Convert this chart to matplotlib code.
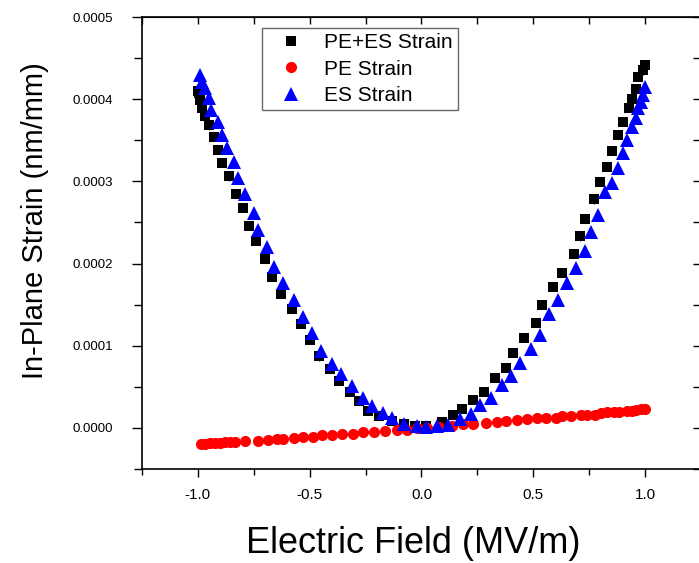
import matplotlib
matplotlib.use("Agg")
import matplotlib.pyplot as plt
from matplotlib.ticker import MultipleLocator, FormatStrFormatter

plt.rcParams['font.family'] = ['Liberation Sans', 'DejaVu Sans']

# PE+ES Strain (black squares), field in MV/m, strain in units of 1e-4 nm/mm
field_black = [-1.00, -0.995, -0.99, -0.98, -0.97, -0.95, -0.93, -0.91, -0.89, -0.86,
               -0.83, -0.80, -0.77, -0.74, -0.70, -0.67, -0.63, -0.58, -0.54, -0.50,
               -0.46, -0.41, -0.37, -0.32, -0.28, -0.24, -0.19, -0.13, -0.08, -0.03,
               0.02, 0.09, 0.14, 0.18, 0.23, 0.28, 0.33, 0.38, 0.41, 0.46,
               0.51, 0.54, 0.59, 0.63, 0.68, 0.71, 0.73, 0.77, 0.80, 0.83,
               0.85, 0.88, 0.90, 0.93, 0.94, 0.96, 0.97, 0.99, 1.00]
strain_black = [4.10, 4.07, 3.99, 3.89, 3.80, 3.68, 3.54, 3.38, 3.22, 3.06,
                2.85, 2.68, 2.46, 2.27, 2.06, 1.84, 1.63, 1.45, 1.26, 1.07,
                0.87, 0.72, 0.57, 0.44, 0.33, 0.21, 0.15, 0.09, 0.05, 0.02,
                0.02, 0.07, 0.16, 0.23, 0.34, 0.44, 0.61, 0.73, 0.91, 1.09,
                1.28, 1.50, 1.71, 1.89, 2.12, 2.33, 2.54, 2.78, 2.99, 3.18,
                3.37, 3.57, 3.72, 3.89, 4.00, 4.12, 4.27, 4.35, 4.41]

# PE Strain (red circles)
field_red = [-0.985, -0.967, -0.945, -0.923, -0.90, -0.878, -0.856, -0.833, -0.79, -0.73,
             -0.686, -0.646, -0.62, -0.57, -0.53, -0.485, -0.445, -0.40, -0.356, -0.307,
             -0.262, -0.213, -0.164, -0.11, -0.066, -0.02, 0.024, 0.08, 0.135, 0.184,
             0.23, 0.287, 0.336, 0.376, 0.425, 0.47, 0.515, 0.555, 0.60, 0.63,
             0.67, 0.715, 0.742, 0.774, 0.805, 0.83, 0.863, 0.885, 0.917, 0.94,
             0.96, 0.983, 1.00]
strain_red = [-0.195, -0.195, -0.183, -0.183, -0.18, -0.17, -0.17, -0.17, -0.16, -0.155,
              -0.146, -0.134, -0.13, -0.12, -0.11, -0.105, -0.085, -0.085, -0.08, -0.073,
              -0.049, -0.045, -0.037, -0.024, -0.03, 0.0, 0.0, 0.012, 0.024, 0.049,
              0.049, 0.061, 0.073, 0.085, 0.098, 0.11, 0.12, 0.12, 0.125, 0.146,
              0.146, 0.159, 0.159, 0.16, 0.18, 0.195, 0.195, 0.195, 0.20, 0.207,
              0.22, 0.23, 0.23]

# ES Strain (blue triangles)
field_blue = [-0.99, -0.98, -0.97, -0.95, -0.94, -0.91, -0.89, -0.87, -0.84, -0.82,
              -0.79, -0.75, -0.73, -0.69, -0.66, -0.62, -0.57, -0.53, -0.49, -0.45,
              -0.40, -0.36, -0.31, -0.26, -0.22, -0.17, -0.13, -0.08, -0.02, 0.02,
              0.07, 0.12, 0.17, 0.22, 0.26, 0.31, 0.36, 0.40, 0.44, 0.49,
              0.53, 0.57, 0.61, 0.65, 0.69, 0.73, 0.76, 0.79, 0.82, 0.85,
              0.88, 0.90, 0.92, 0.94, 0.96, 0.97, 0.98, 0.99, 1.00]
strain_blue = [4.29, 4.21, 4.13, 4.01, 3.87, 3.72, 3.56, 3.40, 3.23, 3.04,
               2.85, 2.61, 2.41, 2.20, 1.96, 1.76, 1.56, 1.35, 1.16, 0.94,
               0.78, 0.65, 0.51, 0.37, 0.27, 0.18, 0.12, 0.05, 0.02, 0.01,
               0.02, 0.04, 0.11, 0.17, 0.28, 0.37, 0.52, 0.63, 0.79, 0.96,
               1.13, 1.38, 1.56, 1.76, 1.95, 2.15, 2.38, 2.59, 2.87, 2.98,
               3.16, 3.35, 3.50, 3.66, 3.77, 3.89, 3.96, 4.05, 4.15]

err_strain = 0.05  # error bar half-height, in units of 1e-4 nm/mm

series_labels = ['PE+ES Strain', 'PE Strain', 'ES Strain']

scale = 1e-4
yb = [v * scale for v in strain_black]
yr = [v * scale for v in strain_red]
yu = [v * scale for v in strain_blue]
e = err_strain * scale

fig = plt.figure(figsize=(6.99, 5.63), dpi=100)
ax = fig.add_axes([142/699, 1 - 469/563, (701 - 142)/699, (469 - 17)/563])

c1 = ax.errorbar(field_black, yb, yerr=e, fmt='s', color='black', ms=7.5, mew=0,
                 ecolor='black', elinewidth=0.8, capsize=3.5, capthick=0.8)
c2 = ax.errorbar(field_red, yr, yerr=e, fmt='o', color='red', ms=8, mew=0,
                 ecolor='red', elinewidth=0.8, capsize=2.5, capthick=0.8)
c3 = ax.errorbar(field_blue, yu, yerr=e, fmt='^', color='blue', ms=10, mew=0,
                 ecolor='blue', elinewidth=0.8, capsize=2.5, capthick=0.8)

ax.set_xlim(-1.25, 1.25)
ax.set_ylim(-0.00005, 0.0005)
ax.xaxis.set_major_locator(MultipleLocator(0.5))
ax.xaxis.set_minor_locator(MultipleLocator(0.25))
ax.yaxis.set_major_locator(MultipleLocator(0.0001))
ax.yaxis.set_minor_locator(MultipleLocator(0.00005))
ax.xaxis.set_major_formatter(FormatStrFormatter('%.1f'))
ax.yaxis.set_major_formatter(FormatStrFormatter('%.4f'))

ax.tick_params(axis='x', which='both', direction='out', bottom=True, top=False,
               labelsize=11, width=1, pad=8)
ax.tick_params(axis='x', which='major', length=6)
ax.tick_params(axis='x', which='minor', length=4)
ax.tick_params(axis='y', which='both', direction='out', left=True, right=False,
               labelsize=9.5, width=1, pad=14)
ax.tick_params(axis='y', which='major', length=7)
ax.tick_params(axis='y', which='minor', length=6)

# inward ticks on top and right
axt = ax.secondary_xaxis('top')
axt.xaxis.set_major_locator(MultipleLocator(0.25))
axt.tick_params(direction='in', length=5, width=1, labeltop=False)
axr = ax.secondary_yaxis('right')
axr.yaxis.set_major_locator(MultipleLocator(0.00005))
axr.tick_params(direction='in', length=6, width=1, labelright=False)

for s in ax.spines.values():
    s.set_linewidth(1.2)

ax.set_xlabel('Electric Field (MV/m)', fontsize=26)
ax.set_ylabel('In-Plane Strain (nm/mm)', fontsize=21)
ax.xaxis.set_label_coords((413.5 - 142) / 559, (469 - 526) / 452)
ax.yaxis.set_label_coords((49 - 142) / 559, (469 - 221) / 452)

leg = ax.legend([c1[0], c2[0], c3[0]], series_labels, loc='upper left',
                bbox_to_anchor=((262 - 142) / 559, 1 - (28 - 17) / 452),
                frameon=True, fancybox=False, fontsize=15, borderaxespad=0,
                handletextpad=0.45, labelspacing=0.35, borderpad=0.25,
                handlelength=2.3)
leg.get_frame().set_edgecolor('#444444')
leg.get_frame().set_linewidth(1.0)

fig.savefig('out.png', dpi=100)
